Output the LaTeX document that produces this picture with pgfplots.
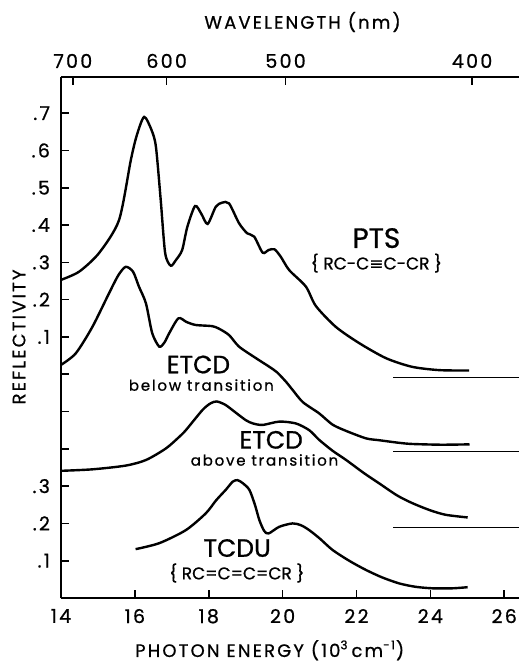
\documentclass[border=0pt]{standalone}
\usepackage{pgfplots}
\pgfplotsset{compat=1.18}
\usepackage{fontspec}
\setmainfont{Poppins}[FakeBold=0.8]
\newfontfamily\lab{Poppins}[LetterSpace=12, FakeBold=0.8]
\newfontfamily\sym{DejaVu Sans}[FakeBold=0.8]

\begin{document}
\begin{tikzpicture}[x=1pt,y=1pt]
% top axis: wavelength
\begin{axis}[
  at={(0,0)}, anchor=south west,
  scale only axis, width=229pt, height=260.5pt,
  xmin=14, xmax=26.4, ymin=0, ymax=1.397,
  axis x line*=top, axis y line=none,
  axis line style={line width=1pt,-},
  tick style={line width=0.8pt, black},
  major tick length=4pt, tick align=inside,
  xtick={14.32,16.86,20.08,25.13},
  xticklabels={700,600,500,400},
  xticklabel style={font=\lab\fontsize{9.5}{10}\selectfont, yshift=1pt},
]
\end{axis}
\begin{axis}[
  at={(0,0)}, anchor=south west,
  scale only axis, width=229pt, height=260.5pt,
  xmin=14, xmax=26.4, ymin=0, ymax=1.397,
  axis x line*=bottom, axis y line*=left,
  axis line style={line width=1pt,-},
  tick style={line width=0.8pt, black},
  major tick length=4pt, tick align=inside,
  xtick={14,16,18,20,22,24,26},
  xticklabels={14,16,18,20,22,24,26},
  ytick={0.1,0.2,0.3,0.4,0.5,0.6,0.7,0.8,0.9,1.0,1.1,1.2,1.3},
  yticklabels={.1,.2,.3,,,,.1,.2,.3,.4,.5,.6,.7},
  xticklabel style={font=\lab\fontsize{9.5}{10}\selectfont, yshift=-2pt},
  yticklabel style={font=\lab\fontsize{9.5}{10}\selectfont, xshift=-2pt},
  clip=false,
]
% PTS
\addplot[line width=1.2pt, smooth, tension=0.45] coordinates {
  (14.0,0.853)(14.49,0.875)(15.03,0.925)(15.57,1.013)(15.89,1.174)(16.05,1.24)
  (16.25,1.290)(16.45,1.255)(16.57,1.21)(16.70,1.067)(16.82,0.925)(16.97,0.891)
  (17.11,0.906)(17.28,0.933)(17.42,0.995)(17.63,1.051)(17.80,1.03)(17.97,1.003)
  (18.19,1.049)(18.36,1.06)(18.55,1.058)(18.82,1.005)(19.04,0.978)(19.23,0.969)
  (19.46,0.926)(19.62,0.933)(19.78,0.935)(19.95,0.915)(20.18,0.879)(20.63,0.835)
  (20.9,0.783)(21.44,0.727)(22.08,0.683)(22.80,0.643)(23.5,0.620)(24.24,0.611)
  (25.05,0.610)
};
% ETCD below transition
\addplot[line width=1.2pt, smooth, tension=0.45] coordinates {
  (14.0,0.625)(14.4,0.656)(14.85,0.727)(15.3,0.817)(15.55,0.865)(15.75,0.888)
  (15.95,0.875)(16.11,0.835)(16.30,0.79)(16.47,0.710)(16.66,0.674)(16.8,0.685)
  (16.93,0.710)(17.18,0.750)(17.4,0.740)(17.65,0.732)(18.09,0.729)(18.28,0.722)
  (18.55,0.705)(18.82,0.674)(19.28,0.643)(19.64,0.62)(19.85,0.605)(20.09,0.580)
  (20.27,0.558)(20.55,0.525)(20.99,0.495)(21.35,0.465)(21.72,0.448)(22.26,0.428)
  (22.62,0.423)(23.16,0.416)(23.51,0.413)(24.3,0.411)(25.06,0.412)
};
% ETCD above transition
\addplot[line width=1.2pt, smooth, tension=0.45] coordinates {
  (14.0,0.341)(14.85,0.345)(15.75,0.355)(16.30,0.370)(16.84,0.401)(17.2,0.432)
  (17.38,0.450)(17.83,0.504)(18.05,0.522)(18.22,0.527)(18.45,0.518)(18.64,0.504)
  (19.0,0.477)(19.2,0.468)(19.46,0.464)(19.91,0.473)(20.36,0.468)(20.72,0.45)
  (20.99,0.424)(21.35,0.395)(21.72,0.370)(22.2,0.335)(22.62,0.307)(23.1,0.275)
  (23.52,0.254)(24.0,0.235)(24.42,0.223)(25.01,0.216)
};
% TCDU
\addplot[line width=1.2pt, smooth, tension=0.45] coordinates {
  (16.02,0.131)(16.66,0.147)(17.38,0.182)(17.92,0.227)(18.2,0.262)(18.46,0.29)
  (18.65,0.312)(18.78,0.316)(18.92,0.308)(19.10,0.29)(19.25,0.25)(19.37,0.209)
  (19.5,0.18)(19.62,0.173)(19.91,0.191)(20.27,0.200)(20.5,0.195)(20.72,0.182)
  (21.0,0.16)(21.35,0.129)(21.8,0.1)(22.26,0.075)(22.7,0.055)(23.16,0.039)
  (23.6,0.030)(24.06,0.026)(24.6,0.026)(25.01,0.029)
};
% zero lines
\addplot[line width=0.5pt] coordinates {(23.0,0.59)(26.4,0.59)};
\addplot[line width=0.5pt] coordinates {(23.0,0.392)(26.4,0.392)};
\addplot[line width=0.5pt] coordinates {(23.0,0.19)(26.4,0.19)};
% labels
\node[font=\fontsize{14}{14}\selectfont] at (axis cs:22.54,0.965) {PTS};
\node[font=\fontsize{8.5}{8.5}\selectfont] at (axis cs:22.54,0.898) {\{ RC-C{\sym≡}C-CR \}};
\node[font=\fontsize{12.5}{12.5}\selectfont] at (axis cs:17.72,0.626) {ETCD};
\node[font=\lab\fontsize{7.5}{7.5}\selectfont] at (axis cs:17.80,0.571) {below transition};
\node[font=\fontsize{12.5}{12.5}\selectfont] at (axis cs:19.69,0.424) {ETCD};
\node[font=\lab\fontsize{7.5}{7.5}\selectfont] at (axis cs:19.51,0.370) {above transition};
\node[font=\fontsize{12.5}{12.5}\selectfont] at (axis cs:18.77,0.134) {TCDU};
\node[font=\fontsize{8.5}{8.5}\selectfont] at (axis cs:18.76,0.067) {\{ RC=C=C=CR \}};
\node[font=\lab\fontsize{9}{9}\selectfont] at (axis cs:19.65,-0.14) {PHOTON ENERGY (10\textsuperscript{3}\,cm\textsuperscript{-1})};
\node[font=\lab\fontsize{9}{9}\selectfont] at (axis cs:20.54,1.397) [yshift=27.5pt] {WAVELENGTH (nm)};
\node[font=\lab\fontsize{9}{9}\selectfont, rotate=90] at (axis cs:14,0.70) [yshift=21pt] {REFLECTIVITY};
\end{axis}
% page frame (px/2 units)
\path (-30.5,-35.5) rectangle (229,299);
\end{tikzpicture}
\end{document}
